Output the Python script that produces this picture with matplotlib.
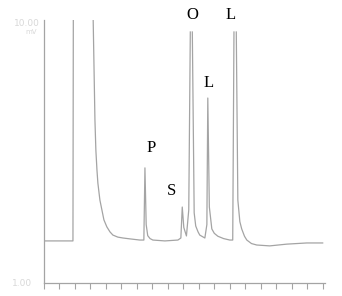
import numpy as np
import matplotlib
matplotlib.use('Agg')
import matplotlib.pyplot as plt

# === Data (time in min, signal in mV) ===
# NaN marks where the pen went off scale on the tall peaks
time_min = [0.0, 1.87, 1.90, 3.12, 3.16, 3.29, 3.35, 3.42, 3.48, 3.61, 3.74, 3.87,
            4.06, 4.26, 4.45, 4.77, 5.10, 5.55, 6.19,
            6.45, 6.52, 6.60, 6.70, 6.85, 7.03, 7.81, 8.65, 8.84, 8.93, 9.03, 9.20,
            9.35, 9.45, 9.50, 9.58, 9.70, 9.80, 9.95, 10.06, 10.39,
            10.52, 10.58, 10.68, 10.84, 11.00, 11.23, 11.60, 12.00, 12.19,
            12.27, 12.33, 12.42, 12.52, 12.65, 12.77, 12.95, 13.10, 13.40, 13.74,
            14.58, 15.68, 16.97, 18.0]
signal_mv = [2.44, 2.44, 12.0, 12.0, 10.5, 6.58, 5.55, 4.87, 4.42, 3.84, 3.50, 3.16,
             2.92, 2.75, 2.64, 2.57, 2.54, 2.51, 2.47,
             2.47, 4.94, 3.00, 2.62, 2.52, 2.47, 2.44, 2.47, 2.54, 3.60, 2.90, 2.61,
             3.50, 9.59, np.nan, 9.59, 3.40, 2.95, 2.75, 2.64, 2.54,
             3.00, 7.33, 3.60, 2.85, 2.70, 2.60, 2.52, 2.47, 2.47,
             9.59, np.nan, 9.59, 3.84, 3.10, 2.85, 2.60, 2.47, 2.35, 2.30,
             2.27, 2.33, 2.37, 2.37]

peak_names = ['P', 'S', 'O', 'L', 'L']
peak_label_t = [6.90, 8.26, 9.61, 10.65, 12.06]
peak_label_v = [5.62, 4.15, 10.17, 7.84, 10.17]

time_ticks = list(range(0, 19))

# === Plot ===
fig = plt.figure(figsize=(3.42, 2.96), dpi=100)
ax = fig.add_axes([44 / 342, 1 - 283 / 296, 281 / 342, 263 / 296])

trace_color = '#a4a4a4'
ax.plot(time_min, signal_mv, color=trace_color, lw=0.9)

for name, t, v in zip(peak_names, peak_label_t, peak_label_v):
    ax.text(t, v, name, ha='center', va='center', fontsize=12,
            family='Liberation Serif', color='black', clip_on=False)

ax.set_xlim(0, 18.15)
ax.set_ylim(1, 10)
ax.set_xticks(time_ticks)
ax.set_xticklabels([])
ax.set_yticks([])
ax.tick_params(axis='x', direction='out', length=4, width=0.8, color=trace_color)

for side in ['top', 'right']:
    ax.spines[side].set_visible(False)
for side in ['left', 'bottom']:
    ax.spines[side].set_color(trace_color)
    ax.spines[side].set_linewidth(0.9)

# faint scale labels from the original recorder paper
faint = '#d8d8d8'
fig.text(27 / 342, 1 - 23 / 296, '10.00', ha='center', va='center', fontsize=6.5, color=faint)
fig.text(31 / 342, 1 - 32 / 296, 'mV', ha='center', va='center', fontsize=5, color=faint)
fig.text(22 / 342, 1 - 283 / 296, '1.00', ha='center', va='center', fontsize=6.5, color=faint)

fig.savefig('out.png', dpi=100)
